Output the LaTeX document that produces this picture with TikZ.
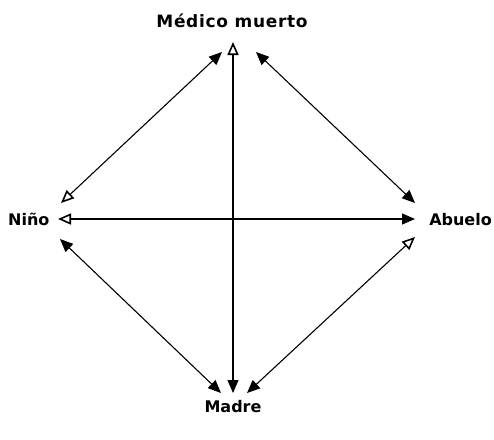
\documentclass[tikz,border=0pt]{standalone}
\usepackage{fontspec}
\setmainfont{DejaVu Sans}
\newfontfamily\widefont{DejaVu Sans}[LetterSpace=4]
\usetikzlibrary{arrows.meta}
\begin{document}
\begin{tikzpicture}[x=1pt,y=-1pt,
  lbl/.style={font=\fontsize{16}{19}\selectfont\bfseries, inner sep=0pt},
  conn/.style={line width=1.1pt},
  F/.tip={Triangle[length=13pt,width=11pt]},
  O/.tip={Triangle[open,length=13pt,width=11pt,line width=1.6pt]}]
\useasboundingbox (0,0) rectangle (494,439);
\node[lbl,font=\fontsize{17}{20}\widefont\bfseries] (med) at (232,21) {Médico muerto};
\node[lbl,anchor=west] (nin) at (8,219) {Niño};
\node[lbl,anchor=east] (abu) at (492,220) {Abuelo};
\node[lbl] (mad) at (233,407) {Madre};
\coordinate (mL) at (222,52);
\coordinate (mC) at (233,42);
\coordinate (mR) at (256,52);
\coordinate (nT) at (61,203);
\coordinate (nC) at (58,219);
\coordinate (nB) at (60,239);
\coordinate (aT) at (415,203);
\coordinate (aC) at (415,219);
\coordinate (aB) at (415,237);
\coordinate (dL) at (221,393);
\coordinate (dC) at (233,393);
\coordinate (dR) at (247,393);
\draw[conn,{O}-{F}] (nT) -- (mL);
\draw[conn,{O}-{F}] (mC) -- (dC);
\draw[conn,{F}-{F}] (mR) -- (aT);
\draw[conn,{O}-{F}] (nC) -- (aC);
\draw[conn,{F}-{F}] (nB) -- (dL);
\draw[conn,{O}-{F}] (aB) -- (dR);
\end{tikzpicture}
\end{document}
